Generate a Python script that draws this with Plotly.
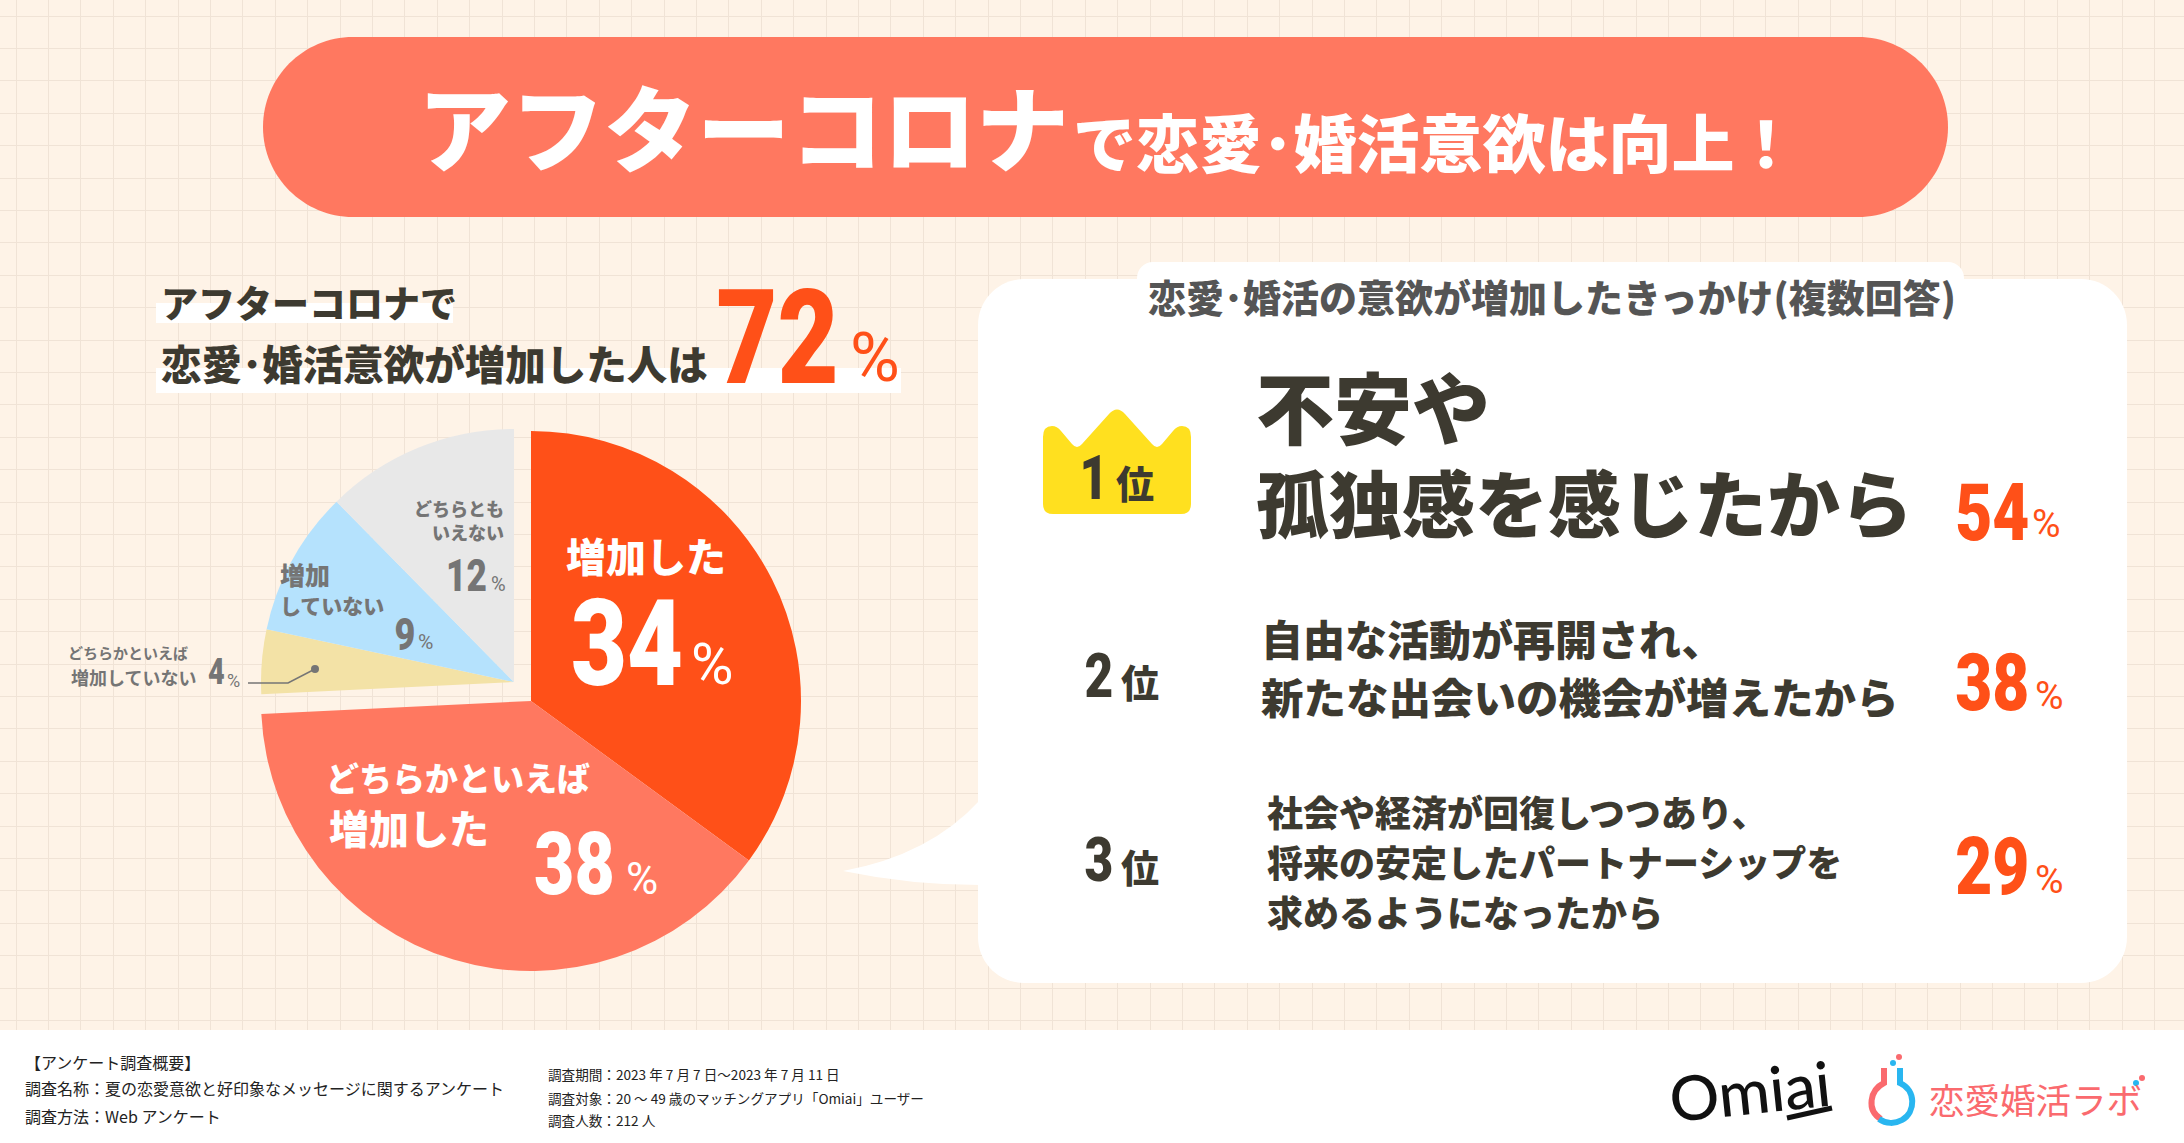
import plotly.graph_objects as go

# data
pie_labels = ['増加した', 'どちらかといえば増加した', 'どちらかといえば増加していない', '増加していない', 'どちらともいえない']
pie_values = [34, 38, 4, 9, 12]
pie_colors = ['#FF5018', '#FF7860', '#F3E2A6', '#B5E2FD', '#E8E8E8']
total_up = 72

rank_labels = ['1', '2', '3']
reason_values = [54, 38, 29]
reason_lines = [
    ['不安や', '孤独感を感じたから'],
    ['自由な活動が再開され、', '新たな出会いの機会が増えたから'],
    ['社会や経済が回復しつつあり、', '将来の安定したパートナーシップを', '求めるようになったから'],
]

footer_left = ['【アンケート調査概要】', '調査名称：夏の恋愛意欲と好印象なメッセージに関するアンケート', '調査方法：Web アンケート']
footer_right = ['調査期間：2023 年 7 月 7 日～2023 年 7 月 11 日', '調査対象：20 ～ 49 歳のマッチングアプリ「Omiai」ユーザー', '調査人数：212 人']

W, H = 2184, 1143
BG = '#FEF3E7'
DARK = '#3D3A30'
ORANGE = '#FF5018'
SALMON = '#FF7860'
GRAY = '#757575'
CJK = 'Noto Sans CJK JP'
NUM = 'Roboto'


def rrect(x0, y0, x1, y1, r):
    k = r * 0.448
    return (f'M {x0+r} {y0} L {x1-r} {y0} C {x1-k} {y0} {x1} {y0+k} {x1} {y0+r} '
            f'L {x1} {y1-r} C {x1} {y1-k} {x1-k} {y1} {x1-r} {y1} '
            f'L {x0+r} {y1} C {x0+k} {y1} {x0} {y1-k} {x0} {y1-r} '
            f'L {x0} {y0+r} C {x0} {y0+k} {x0+k} {y0} {x0+r} {y0} Z')


def fill(path, color, layer='between'):
    return dict(type='path', path=path, xref='x', yref='y', fillcolor=color,
                line=dict(width=0), layer=layer)


def stroke(path, color, width, layer='above'):
    return dict(type='path', path=path, xref='x', yref='y', fillcolor='rgba(0,0,0,0)',
                line=dict(color=color, width=width), layer=layer)


def dot(cx, cy, r, color):
    return dict(type='circle', xref='x', yref='y', x0=cx-r, x1=cx+r, y0=cy-r, y1=cy+r,
                fillcolor=color, line=dict(width=0), layer='above')


def box(x0, y0, x1, y1, color='white'):
    return dict(type='rect', xref='x', yref='y', x0=x0, x1=x1, y0=y0, y1=y1, fillcolor=color,
                line=dict(width=0), layer='between')


def label(text, x, y, size, color=DARK, weight=700, anchor='left', family=CJK, angle=0):
    return dict(text=text, x=x, y=y, xref='x', yref='y', xanchor=anchor, yanchor='middle',
                showarrow=False, borderpad=0, textangle=angle,
                font=dict(family=family, size=size, color=color, weight=weight))


def pct(value, x, y, size, color, px, py, psize):
    # number and its small % sign, both centred on their spots
    return [label(str(value), x, y, size, color, 900, 'center', NUM),
            label('%', px, py, psize, color, 400, 'center', NUM)]


fig = go.Figure()
# empty trace so the pixel axes exist
fig.add_trace(go.Scatter(x=[], y=[], hoverinfo='skip', showlegend=False))


def pie_domain(cx, cy, r):
    return dict(x=[(cx-r)/W, (cx+r)/W], y=[1-(cy+r)/H, 1-(cy-r)/H])


clear = 'rgba(0,0,0,0)'
# the three small slices sit on a pushed-in centre, so two pies share the values
fig.add_trace(go.Pie(labels=pie_labels, values=pie_values, sort=False, direction='clockwise',
                     rotation=0, textinfo='none', hoverinfo='label+value', showlegend=False,
                     marker=dict(colors=pie_colors[:2] + [clear]*3, line=dict(width=0)),
                     domain=pie_domain(531, 701, 270)))
fig.add_trace(go.Pie(labels=pie_labels, values=pie_values, sort=False, direction='clockwise',
                     rotation=0, textinfo='none', hoverinfo='label+value', showlegend=False,
                     marker=dict(colors=[clear]*2 + pie_colors[2:], line=dict(width=0)),
                     domain=pie_domain(514, 682, 253)))

shapes = [
    # footer
    box(0, 1030, W, H),
    # title pill
    fill(rrect(263, 37, 1948, 217, 90), SALMON),
    # marker strips behind the left heading
    box(156, 303, 453, 323),
    box(156, 368, 901, 393),
    # speech bubble
    fill(rrect(978, 279, 2127, 983, 46), 'white'),
    fill('M 980 800 Q 930 855 843 871 Q 910 885 980 885 Z', 'white'),
    fill(rrect(1137, 262, 1964, 310, 16), 'white'),
    # crown
    fill('M 1043 437 Q 1043 426 1052 426 Q 1057 426 1061 431 L 1072 444 Q 1077 450 1082 444 '
         'L 1109 414 Q 1117 405 1125 414 L 1152 444 Q 1157 450 1162 444 L 1173 431 Q 1177 426 1182 426 '
         'Q 1191 426 1191 437 L 1191 504 Q 1191 514 1181 514 '
         'L 1053 514 Q 1043 514 1043 504 Z', '#FFE01F'),
    # leader of the 4% slice
    stroke('M 248 683 L 288 683 L 315 669', GRAY, 1.5),
    dot(315, 669, 4, GRAY),
    # Omiai underline
    stroke('M 1787 1118 L 1832 1108', '#111111', 5),
    # lab logo
    stroke('M 1884 1068 L 1884 1083 C 1870 1090 1866 1110 1881 1119', '#FA6A6E', 6),
    stroke('M 1900 1068 L 1900 1083 C 1916 1090 1916 1112 1902 1120 C 1895 1124 1886 1124 1879 1119', '#29B6F0', 6),
    dot(1893, 1063, 3, '#29B6F0'),
    dot(1899, 1057, 3, '#FA6A6E'),
    dot(2136, 1083, 3, '#29B6F0'),
    dot(2142, 1078, 3, '#FA6A6E'),
]

ann = [
    # title
    label('アフターコロナ', 417, 124, 93, 'white', 900),
    label('で恋愛･婚活意欲は向上！', 1072, 139, 63, 'white', 900),
    # left heading
    label('アフターコロナで', 160, 302, 37, DARK, 900),
    label('恋愛･婚活意欲が増加した人は', 160, 362, 40.5, DARK, 900),
    # bubble heading
    label('恋愛･婚活の意欲が増加したきっかけ(複数回答)', 1552, 295, 38, '#555555', 900, 'center'),
    # pie labels
    label('増加した', 565, 555, 40, 'white', 900),
    label('どちらかといえば', 325, 777, 33, 'white', 900),
    label('増加した', 328, 827, 40, 'white', 900),
    label('どちらとも', 505, 508, 18, GRAY, 900, 'right'),
    label('いえない', 505, 532, 18, GRAY, 900, 'right'),
    label('増加', 279, 574, 25, GRAY, 900),
    label('していない', 279, 605, 21, GRAY, 900),
    label('どちらかといえば', 67, 652, 15, GRAY, 700),
    label('増加していない', 70, 677, 18, GRAY, 700),
]
ann += pct(pie_values[0], 627, 644, 121, 'white', 712, 664, 58)
ann += pct(pie_values[1], 574, 864, 87, 'white', 642, 879, 44)
ann += pct(pie_values[2], 216, 672, 36, GRAY, 233, 680, 18)
ann += pct(pie_values[3], 405, 634, 45, GRAY, 425, 642, 21)
ann += pct(pie_values[4], 466, 576, 44, GRAY, 498, 584, 20)
ann += pct(total_up, 777, 338, 132, ORANGE, 875, 358, 68)

# ranking rows
rank_x = [1094, 1099, 1099]
rank_y = [477, 675, 859]
kanji_x = [1115, 1120, 1120]
kanji_y = [481, 680, 865]
line_x = [1255, 1260, 1266]
line_y = [[405, 500], [637, 695], [811, 861, 911]]
line_size = [[78, 73], [42, 42.5], [36, 36, 36]]
val_y = [513, 683, 867]
pct_x = [2046, 2049, 2049]
pct_y = [524, 696, 880]
for i in range(3):
    ann.append(label(rank_labels[i], rank_x[i], rank_y[i], 62, DARK, 900, 'center', NUM))
    ann.append(label('位', kanji_x[i], kanji_y[i], 38, DARK, 900))
    for t, y, s in zip(reason_lines[i], line_y[i], line_size[i]):
        ann.append(label(t, line_x[i], y, s, DARK, 900))
    ann += pct(reason_values[i], 1992, val_y[i], 80, ORANGE, pct_x[i], pct_y[i], 39)

# footer
for t, y in zip(footer_left, [1062, 1088, 1116]):
    ann.append(label(t, 24, y, 16, '#222222', 400))
for t, y in zip(footer_right, [1074, 1098, 1120]):
    ann.append(label(t, 547, y, 13.6, '#222222', 400))

# logos
ann.append(label('Omiai', 1750, 1090, 62, '#111111', 500, 'center', 'Lato', -6))
ann.append(label('恋愛婚活ラボ', 2035, 1098, 35.5, '#FA6A6E', 400, 'center'))

fig.update_layout(
    width=W, height=H, margin=dict(l=0, r=0, t=0, b=0),
    paper_bgcolor=BG, plot_bgcolor=BG, showlegend=False,
    shapes=shapes, annotations=ann,
    xaxis=dict(range=[0, W], tick0=16, dtick=32.4, showgrid=True, gridcolor='#F0E3D6', gridwidth=1,
               zeroline=False, showticklabels=False, ticks='', fixedrange=True),
    yaxis=dict(range=[H, 0], tick0=16, dtick=32.4, showgrid=True, gridcolor='#F0E3D6', gridwidth=1,
               zeroline=False, showticklabels=False, ticks='', fixedrange=True),
)

# the reference digits are condensed and no narrow face is installed, so squeeze them
squeeze = """
document.body.style.margin='0';document.body.style.overflow='hidden';
document.querySelectorAll('.annotation-text').forEach(function(el){
  if(el.style.fontFamily.indexOf('Roboto')<0 || el.textContent=='%') return;
  el.setAttribute('lengthAdjust','spacingAndGlyphs');
  el.setAttribute('textLength', el.getComputedTextLength()*0.8);
});
"""
fig.write_html("out.html", config=dict(displayModeBar=False), post_script=squeeze)
